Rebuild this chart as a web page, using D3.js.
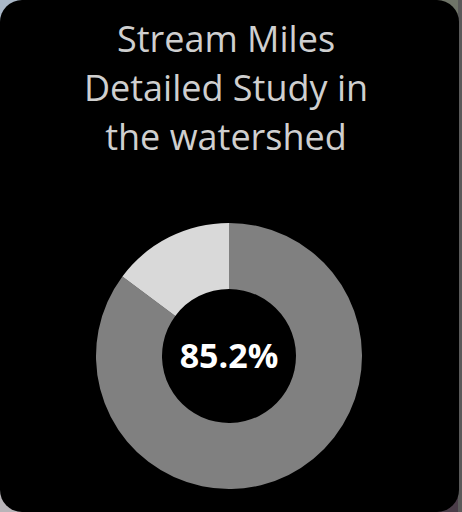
<!DOCTYPE html>
<html><head><meta charset="utf-8">
<script src="https://cdn.jsdelivr.net/npm/d3@7"></script>
<style>html,body{margin:0;padding:0;background:#000;}svg{display:block;}</style>
</head><body>
<script>
const titleLines = ["Stream Miles", "Detailed Study in", "the watershed"];
const categories = ["Detailed Study", "Other"];
const values = [85.2, 14.8];
const centerLabel = "85.2%";
const colors = ["#808080", "#d9d9d9"];

const W = 462, H = 512;
const svg = d3.select("body").append("svg").attr("width", W).attr("height", H);

// backdrop corners (outside rounded card)
const corners = [
  {x:0, y:0, c:"#aab8c8"}, {x:W-30, y:0, c:"#6f7468"},
  {x:0, y:H-30, c:"#b8b4b8"}, {x:W-30, y:H-30, c:"#4a3c48"}
];
svg.selectAll("rect.corner").data(corners).join("rect")
  .attr("x", d => d.x).attr("y", d => d.y).attr("width", 30).attr("height", 30)
  .attr("fill", d => d.c);
svg.append("rect").attr("x", W-4).attr("y", 0).attr("width", 4).attr("height", H).attr("fill", "#5a5a5a");
svg.append("rect").attr("x", 0).attr("y", 0).attr("width", W-3).attr("height", H)
  .attr("rx", 22).attr("ry", 22).attr("fill", "#000");

// title
const title = svg.append("text").attr("text-anchor", "middle")
  .attr("font-family", "'Open Sans', sans-serif").attr("font-size", 36)
  .attr("fill", "#cfcfcf");
title.selectAll("tspan").data(titleLines).join("tspan")
  .attr("x", 226).attr("y", (d, i) => 52 + i * 49).text(d => d);

// donut
const cx = 229, cy = 356, rOuter = 133, rInner = 67;
const pie = d3.pie().sort(null).value(d => d.v);
const arc = d3.arc().innerRadius(rInner).outerRadius(rOuter);
const data = categories.map((c, i) => ({c, v: values[i]}));
const g = svg.append("g").attr("transform", `translate(${cx},${cy})`);
g.selectAll("path").data(pie(data)).join("path")
  .attr("d", arc).attr("fill", (d, i) => colors[i]);

g.append("text").attr("text-anchor", "middle").attr("dy", "0.35em")
  .attr("font-family", "'Open Sans', sans-serif").attr("font-weight", "bold")
  .attr("font-size", 34).attr("fill", "#fff").text(centerLabel);
</script>
</body></html>
